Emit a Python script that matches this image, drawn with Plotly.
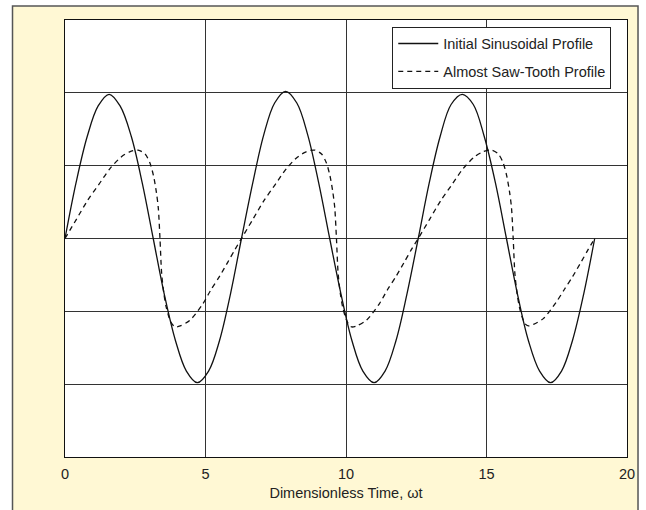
import plotly.graph_objects as go

# Initial sinusoidal profile
t_sine = [0, 0.39, 0.79, 1.18, 1.57, 1.96, 2.36, 2.75, 3.14, 3.53, 3.93, 4.32, 4.71, 5.11, 5.50, 5.89,
          6.28, 6.68, 7.07, 7.46, 7.85, 8.25, 8.64, 9.03, 9.42, 9.82, 10.21, 10.60, 11.00, 11.39, 11.78, 12.17,
          12.57, 12.96, 13.35, 13.74, 14.14, 14.53, 14.92, 15.32, 15.71, 16.10, 16.49, 16.89, 17.28, 17.67, 18.06, 18.46,
          18.85]
y_sine = [0, 0.38, 0.70, 0.91, 0.99, 0.91, 0.70, 0.38, 0, -0.38, -0.70, -0.91, -0.99, -0.91, -0.70, -0.38,
          0, 0.38, 0.71, 0.93, 1.01, 0.93, 0.71, 0.38, 0, -0.38, -0.70, -0.91, -0.99, -0.91, -0.70, -0.38,
          0, 0.38, 0.70, 0.92, 0.99, 0.92, 0.70, 0.38, 0, -0.38, -0.70, -0.91, -0.99, -0.91, -0.70, -0.38,
          0]

# Almost saw-tooth profile
t_saw = [0, 0.4, 0.8, 1.2, 1.6, 2.0, 2.3, 2.6, 2.85, 3.02, 3.15, 3.25, 3.32, 3.38, 3.44, 3.52, 3.6, 3.7, 3.8, 3.92,
         4.1, 4.45, 4.9, 5.2, 5.5, 5.8, 6.05,
         6.28, 6.68, 7.08, 7.48, 7.88, 8.28, 8.58, 8.88, 9.13, 9.30, 9.43, 9.53, 9.60, 9.66, 9.72, 9.80, 9.88, 9.98,
         10.08, 10.20, 10.38, 10.73, 11.18, 11.48, 11.78, 12.08, 12.33,
         12.57, 12.97, 13.37, 13.77, 14.17, 14.57, 14.87, 15.17, 15.42, 15.59, 15.72, 15.82, 15.89, 15.95, 16.01,
         16.09, 16.17, 16.27, 16.37, 16.49, 16.67, 17.02, 17.47, 17.77, 18.07, 18.37, 18.62, 18.85]
y_saw = [0, 0.13, 0.26, 0.37, 0.48, 0.56, 0.595, 0.607, 0.58, 0.52, 0.43, 0.32, 0.21, 0.0, -0.24, -0.38, -0.47, -0.54,
         -0.585, -0.607, -0.60, -0.56, -0.45, -0.35, -0.26, -0.16, -0.075,
         0, 0.13, 0.26, 0.37, 0.48, 0.56, 0.595, 0.607, 0.58, 0.52, 0.43, 0.32, 0.21, 0.0, -0.24, -0.38, -0.47, -0.54,
         -0.585, -0.607, -0.60, -0.56, -0.45, -0.35, -0.26, -0.16, -0.075,
         0, 0.13, 0.26, 0.37, 0.48, 0.56, 0.595, 0.607, 0.58, 0.52, 0.43, 0.32, 0.21, 0.0, -0.24, -0.38, -0.47, -0.54,
         -0.585, -0.600, -0.59, -0.55, -0.44, -0.35, -0.26, -0.16, -0.075, 0]

x_ticks = [0, 5, 10, 15, 20]
x_title = "Dimensionless Time, ωt"
names = ["Initial Sinusoidal Profile", "Almost Saw-Tooth Profile"]

FONT = "Liberation Sans, Arial, Helvetica, sans-serif"
FS = 14.5

fig = go.Figure()
fig.add_trace(go.Scatter(x=t_sine, y=y_sine, mode="lines", name=names[0], legendgroup="a",
                         line=dict(color="#111111", width=1.3, shape="spline", smoothing=1.0)))
fig.add_trace(go.Scatter(x=t_saw, y=y_saw, mode="lines", name=names[1], legendgroup="b",
                         line=dict(color="#111111", width=1.3, dash="5px,4px", shape="spline", smoothing=0.8)))

fig.update_layout(
    width=646, height=510,
    margin=dict(l=65, r=19, t=20, b=53),
    paper_bgcolor="white", plot_bgcolor="white",
    font=dict(family=FONT, size=FS, color="#222222"),
    showlegend=True,
    legend=dict(x=0.972, y=0.985, xanchor="right", yanchor="top", bgcolor="white",
                bordercolor="#222222", borderwidth=1, font=dict(size=FS, family=FONT),
                traceorder="grouped", tracegroupgap=6, itemwidth=40),
    shapes=[
        dict(type="rect", xref="paper", yref="paper", x0=-0.0934, x1=1.0196, y0=-0.14, y1=1.032,
             fillcolor="#FFF8D4", line=dict(color="#555555", width=1.5), layer="below"),
        dict(type="rect", xref="paper", yref="paper", x0=0, x1=1, y0=0, y1=1,
             fillcolor="white", line=dict(width=0), layer="below"),
    ],
)
fig.update_xaxes(range=[0, 20], tickvals=x_ticks, showgrid=True, gridcolor="#333333", gridwidth=1,
                 showline=True, linecolor="#111111", linewidth=1, mirror=True,
                 ticks="outside", ticklen=4, tickcolor="rgba(0,0,0,0)",
                 zeroline=False, title=dict(text=x_title, standoff=6, font=dict(size=FS)),
                 tickfont=dict(size=FS))
fig.update_yaxes(range=[-1.5, 1.5], dtick=0.5, showgrid=True, gridcolor="#333333", gridwidth=1,
                 showline=True, linecolor="#111111", linewidth=1, mirror=True, ticks="",
                 showticklabels=False, zeroline=False)

fig.write_html("out.html", config={"displayModeBar": False},
               post_script="document.body.style.margin='0';")
